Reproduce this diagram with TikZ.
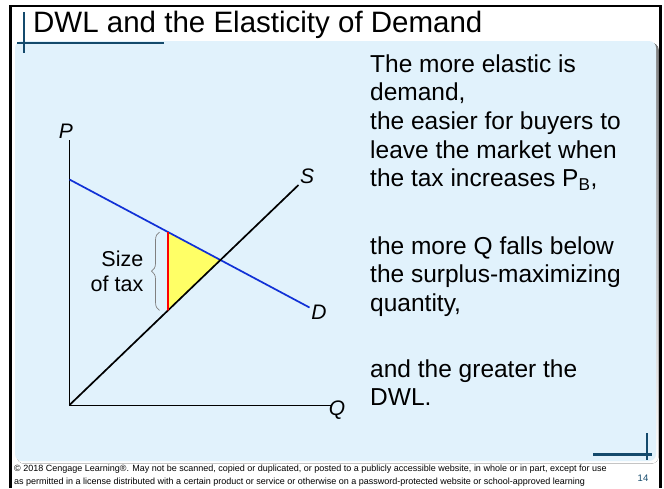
\documentclass[tikz,border=0pt]{standalone}
\usepackage{fontspec}
\setmainfont{Liberation Sans}
\usetikzlibrary{calc, decorations.pathreplacing}
\definecolor{panel}{RGB}{225,242,252}
\definecolor{shade}{RGB}{208,211,215}
\definecolor{accent}{RGB}{20,74,108}
\definecolor{ink}{RGB}{0,0,0}
\definecolor{dcurve}{RGB}{16,48,214}
\definecolor{dwlfill}{RGB}{255,255,102}
\definecolor{taxline}{RGB}{255,0,0}
\definecolor{bracegray}{RGB}{128,128,128}

\begin{document}
\begin{tikzpicture}[x=1pt, y=-1pt,
    body/.style={anchor=base west, inner sep=0pt, text=ink, font=\fontsize{24.5}{28.7}\selectfont},
    axislbl/.style={inner sep=0pt, text=ink, font=\fontsize{21}{25}\selectfont\itshape},
    credit/.style={anchor=base west, inner sep=0pt, text=ink, font=\fontsize{9}{12}\selectfont},
    accentrule/.style={accent, line width=2.3pt}]
        \useasboundingbox (0,0) rectangle (664,488);

        % cadre et panneau
        \fill[white] (0,0) rectangle (664,488);
        \fill[shade, rounded corners=7pt] (17,43) rectangle (658.5,463.5);
        \fill[panel, rounded corners=7pt] (15,41) rectangle (656,461);
        \draw[black, line width=2.4pt] (10.5,488) -- (10.5,6) -- (660.5,6) -- (660.5,488);

        % titre
        \node[anchor=base west, inner sep=0pt, text=ink, font=\fontsize{29.5}{34}\selectfont] (titre) at (33,32) {DWL and the Elasticity of Demand};
        \draw[accentrule] (24,12) -- (24,53);
        \draw[accentrule] (17,43.3) -- (164,43.3);
        \draw[accentrule] (647,433) -- (647,460);
        \draw[accentrule] (593,454.5) -- (652,454.5);

        % points du graphique
        \coordinate (O) at (69.5,405);
        \coordinate (Ptop) at (69.5,140);
        \coordinate (Qend) at (331,405);
        \coordinate (D0) at (69.5,179.5);
        \coordinate (D1) at (309.5,307.5);
        \coordinate (S1) at (298.5,185);
        \coordinate (E) at (intersection of D0--D1 and O--S1);
        \coordinate (Tt) at (intersection of D0--D1 and 168,100--168,400);
        \coordinate (Tb) at (intersection of O--S1 and 168,100--168,400);

        % perte seche
        \fill[dwlfill] (Tt) -- (E) -- (Tb) -- cycle;

        % axes et courbes
        \draw[ink, line width=1pt] (Ptop) -- (O) -- (Qend);
        \draw[dcurve, line width=1.7pt] (D0) -- (D1);
        \draw[ink, line width=1.7pt] (O) -- (S1);
        \draw[taxline, line width=1.8pt] (Tt) -- (Tb);
        \draw[bracegray, line width=0.7pt, decorate, decoration={brace, amplitude=8pt}]
          ($(Tb)+(-8.5,0)$) -- ($(Tt)+(-8.5,0)$);

        % labels du graphique
        \node[axislbl] (lblP) at (66,131) {P};
        \node[axislbl] (lblQ) at (337,410) {Q};
        \node[axislbl] (lblS) at (307,176) {S};
        \node[axislbl] (lblD) at (319,312) {D};
        \node[anchor=north east, inner sep=0pt, align=right, text=ink, font=\fontsize{21.5}{25}\selectfont] (taille) at (143.5,250.5) {Size\\of tax};

        % texte a droite
        \node[body] (l1) at (370,72) {The more elastic is};
        \node[body] (l2) at (370,100.7) {demand,};
        \node[body] (l3) at (370,129.4) {the easier for buyers to};
        \node[body] (l4) at (370,158.1) {leave the market when};
        \node[body] (l5) at (370,186.8) {the tax increases P\textsubscript{B},};
        \node[body] (l6) at (370,254) {the more Q falls below};
        \node[body] (l7) at (370,282.7) {the surplus-maximizing};
        \node[body] (l8) at (370,311.4) {quantity,};
        \node[body] (l9) at (370,377) {and the greater the};
        \node[body] (l10) at (370,405.7) {DWL.};

        % pied de page
        \node[credit] (credit1) at (14,471.5) {© 2018 Cengage Learning®. May not be scanned, copied or duplicated, or posted to a publicly accessible website, in whole or in part, except for use};
        \node[credit] (credit2) at (14,484) {as permitted in a license distributed with a certain product or service or otherwise on a password-protected website or school-approved learning};
        \node[anchor=base, inner sep=0pt, text=accent, font=\fontsize{9.5}{11}\selectfont] (page) at (643,481) {14};
      \end{tikzpicture}
\end{document}
